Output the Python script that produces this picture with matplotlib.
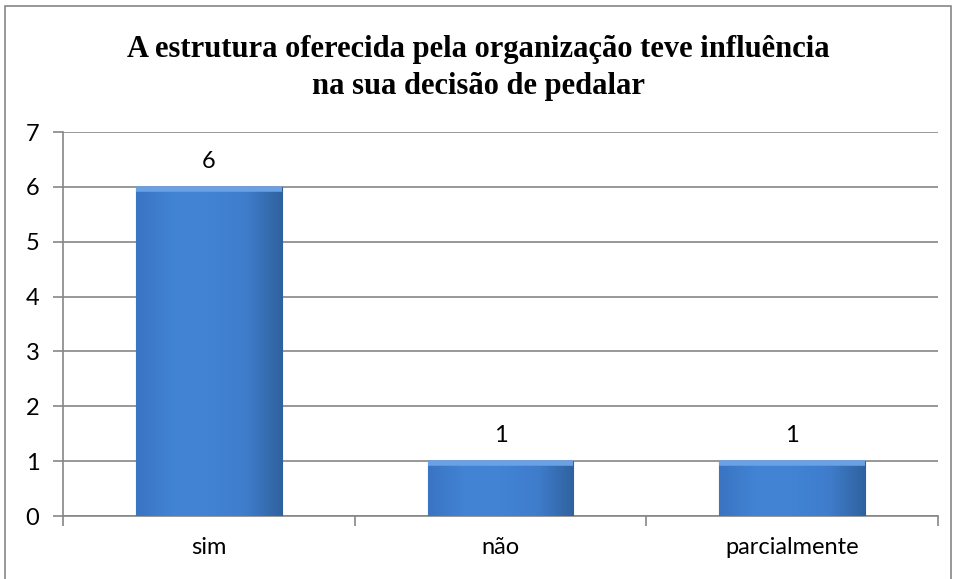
import matplotlib.pyplot as plt
import numpy as np
from matplotlib.patches import Rectangle
from matplotlib.colors import LinearSegmentedColormap

categories = ["sim", "não", "parcialmente"]
values = [6, 1, 1]
title = "A estrutura oferecida pela organização teve influência\nna sua decisão de pedalar"

fig = plt.figure(figsize=(9.57, 5.79), dpi=100)
ax = fig.add_axes([0.0658, 0.1088, 0.9142, 0.6632])

# outer chart frame
fig.patches.append(Rectangle((0.005, -0.05), 0.989, 1.04, transform=fig.transFigure,
                             fill=False, edgecolor="#868686", lw=1.2))

x = np.arange(len(categories))
width = 0.5
bars = ax.bar(x, values, width=width, color="#3f7fcf", edgecolor="#2f5f9a", lw=0.8, zorder=3)

# simple bevel look: horizontal gradient clipped to each bar
cmap = LinearSegmentedColormap.from_list("bev", ["#3a74c2", "#4283d4", "#4283d4", "#3f7dcc", "#30629f"])
grad = np.linspace(0, 1, 256).reshape(1, -1)
for b in bars:
    bx, by, bw, bh = b.get_x(), b.get_y(), b.get_width(), b.get_height()
    im = ax.imshow(grad, extent=[bx, bx + bw, by, by + bh], aspect="auto", cmap=cmap, zorder=3.5)
    im.set_clip_path(b)
    ax.plot([bx, bx + bw], [bh - 0.04, bh - 0.04], color="#6aa0e4", lw=4, zorder=4,
            solid_capstyle="butt")

for xi, v in zip(x, values):
    ax.text(xi, v + 0.27, str(v), ha="center", va="bottom", fontsize=17, family="Lato")

ax.set_xlim(-0.5, 2.5)
ax.set_ylim(0, 7)
ax.set_yticks(range(8))
ax.yaxis.grid(True, color="#868686", lw=1.2, zorder=0)
ax.set_axisbelow(True)
ax.set_xticks(x)
ax.set_xticklabels(categories)
ax.set_xticks([-0.5, 0.5, 1.5, 2.5], minor=True)
ax.tick_params(axis="x", which="major", length=0, pad=15, labelsize=17)
ax.tick_params(axis="x", which="minor", length=7, color="#868686", width=1.2)
ax.tick_params(axis="y", length=7, color="#868686", width=1.2, labelsize=17, pad=10)
for lab in ax.get_xticklabels() + ax.get_yticklabels():
    lab.set_family("Lato")
for s in ["top", "right"]:
    ax.spines[s].set_visible(False)
for s in ["left", "bottom"]:
    ax.spines[s].set_color("#868686")
    ax.spines[s].set_linewidth(1.2)

fig.text(0.5, 0.882, title, ha="center", va="center", fontsize=22, fontweight="bold",
         family="Liberation Serif", linespacing=1.35)

fig.savefig("out.png", dpi=100)
